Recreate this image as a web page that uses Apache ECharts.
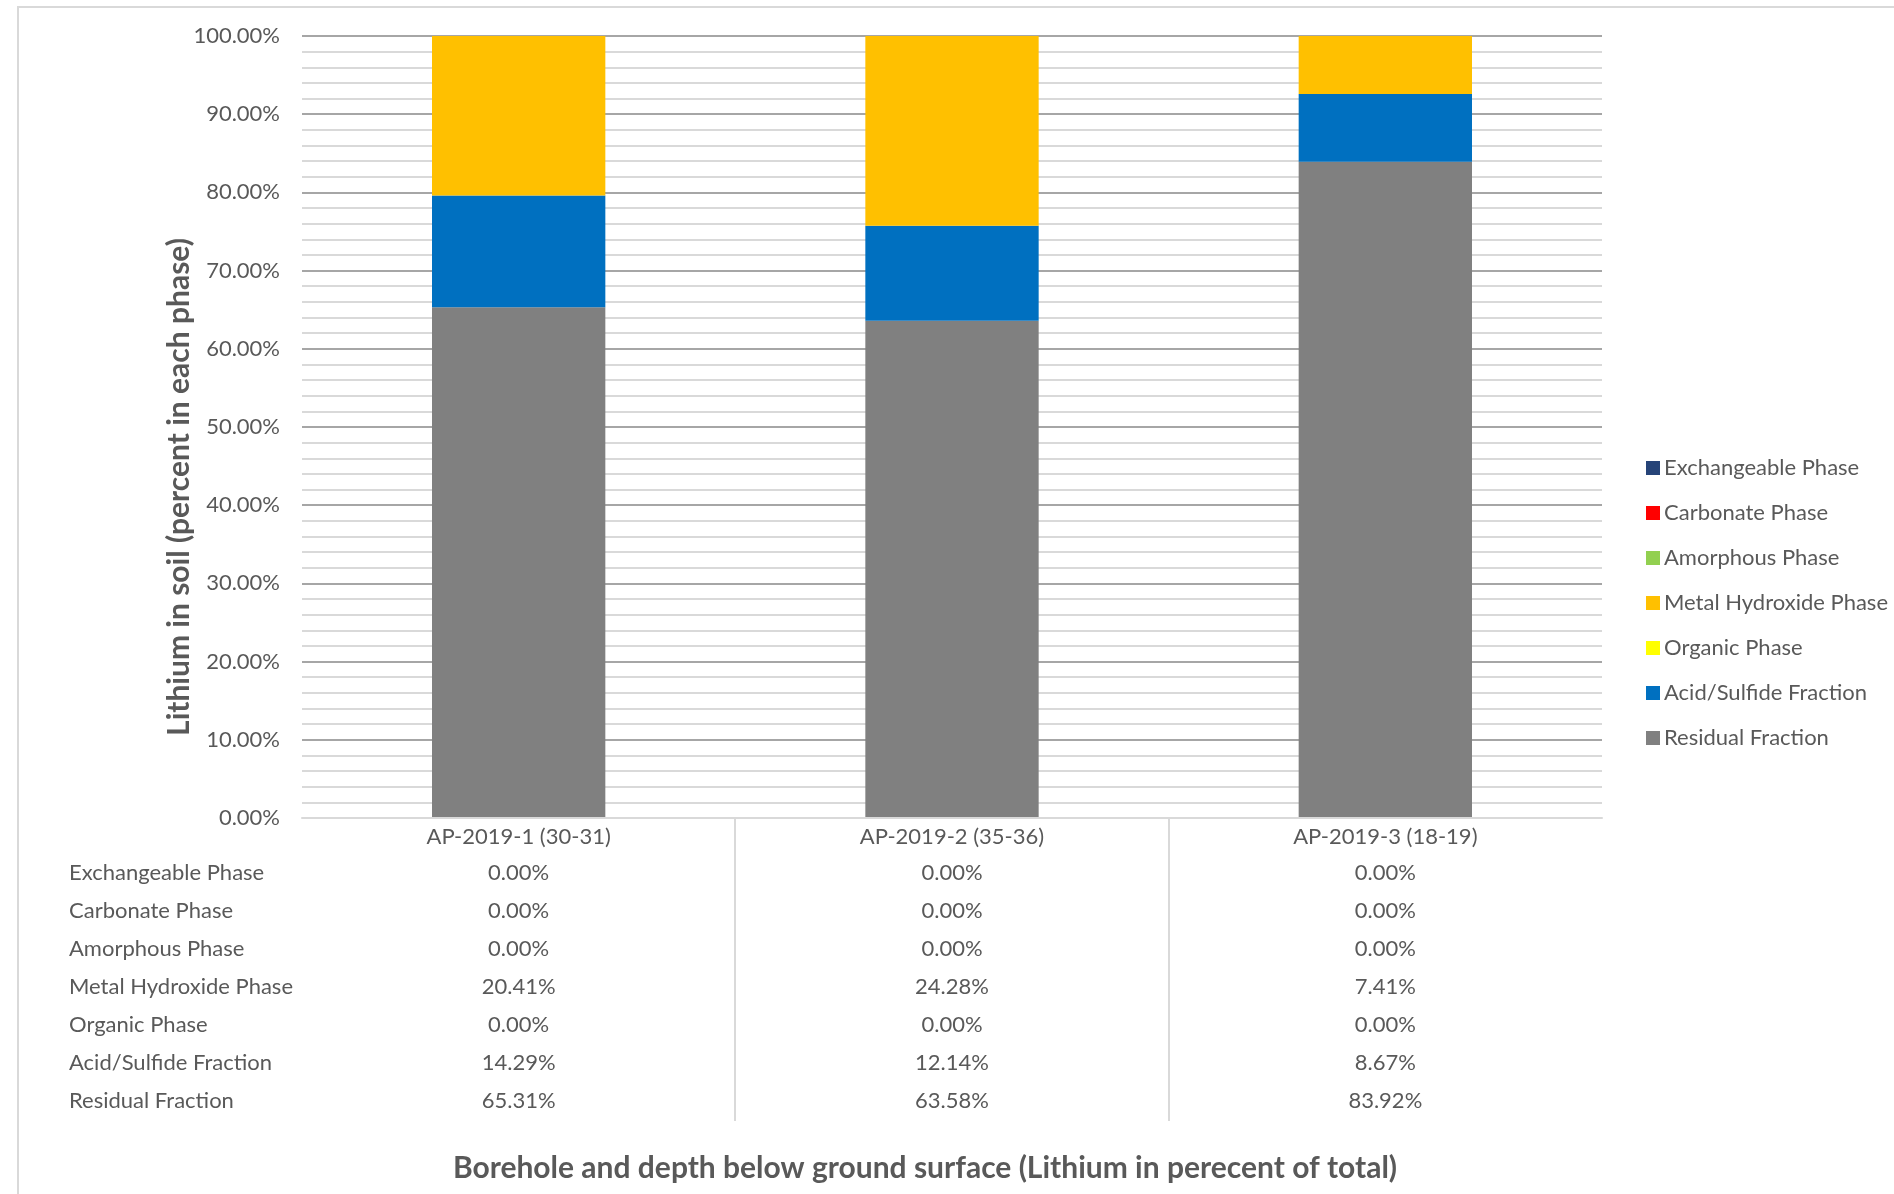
<!DOCTYPE html>
<html>
<head>
<meta charset="utf-8">
<title>Lithium in soil by phase</title>
<script src="https://cdn.jsdelivr.net/npm/echarts@6/dist/echarts.min.js"></script>
<style>
  html, body { margin: 0; padding: 0; background: #ffffff; }
  #chart { width: 1894px; height: 1194px; }
</style>
</head>
<body>
<div id="chart"></div>
<script>
// Boreholes (depth below ground surface, ft)
const categories = ['AP-2019-1 (30-31)', 'AP-2019-2 (35-36)', 'AP-2019-3 (18-19)'];

// Sequential extraction phases, in table / legend order
const phases = [
  'Exchangeable Phase',
  'Carbonate Phase',
  'Amorphous Phase',
  'Metal Hydroxide Phase',
  'Organic Phase',
  'Acid/Sulfide Fraction',
  'Residual Fraction'
];

// Percent of total lithium found in each phase
const exchangeable   = [0.00, 0.00, 0.00];
const carbonate      = [0.00, 0.00, 0.00];
const amorphous      = [0.00, 0.00, 0.00];
const metalHydroxide = [20.41, 24.28, 7.41];
const organic        = [0.00, 0.00, 0.00];
const acidSulfide    = [14.29, 12.14, 8.67];
const residual       = [65.31, 63.58, 83.92];

const phaseValues = [exchangeable, carbonate, amorphous, metalHydroxide, organic, acidSulfide, residual];
const phaseColors = ['#264478', '#FF0000', '#92D050', '#FFC000', '#FFFF00', '#0070C0', '#808080'];

// Value axis range (percent)
const yMin = 0, yMax = 100, yStep = 10;

const FONT = 'Lato, "Open Sans", sans-serif';
const TXT = '#595959';
const fmtPct = v => v.toFixed(2) + '%';

// Layout
const W = 1894, H = 1194;
const gridLeft = 302, gridRight = 292, gridTop = 36, gridBottom = 376;
const axisY = H - gridBottom;
const tableOffset = 30, tableMargin = 6, rowHeight = 38;
const firstRowY = axisY + tableOffset + tableMargin + rowHeight / 2;

const chart = echarts.init(document.getElementById('chart'), null, { renderer: 'canvas' });

// Stack from the bottom up: residual first, exchangeable on top
const stackOrder = phases.map((_, i) => i).reverse();
const series = stackOrder.map(i => ({
  name: phases[i],
  type: 'bar',
  stack: 'total',
  barWidth: '40%',
  data: phaseValues[i],
  itemStyle: { color: phaseColors[i] },
  emphasis: { disabled: true }
}));

// Dark major lines every 10 %, the baseline kept light
const majorColors = [];
for (let v = yMin; v <= yMax; v += yStep) majorColors.push(v === yMin ? '#D9D9D9' : '#A6A6A6');

chart.setOption({
  animation: false,
  textStyle: { fontFamily: FONT },
  grid: { left: gridLeft, right: gridRight, top: gridTop, bottom: gridBottom, containLabel: false },
  legend: {
    orient: 'vertical',
    left: 1641,
    top: 452,
    data: phases,
    icon: 'rect',
    itemWidth: 14,
    itemHeight: 14,
    itemGap: 23,
    selectedMode: false,
    textStyle: { fontFamily: FONT, fontSize: 22, color: TXT, padding: [0, 0, 0, -1] }
  },
  xAxis: [
    {
      type: 'category',
      data: categories,
      axisLine: { show: true, lineStyle: { color: '#D9D9D9', width: 2 } },
      axisTick: { show: false },
      axisLabel: { fontFamily: FONT, fontSize: 22, color: TXT, margin: 8, interval: 0 },
      z: 5
    },
    {
      // data table beneath the plot: one column of values per borehole
      type: 'category',
      data: categories,
      position: 'bottom',
      offset: tableOffset,
      axisLine: { show: false },
      axisTick: { show: false },
      splitLine: { show: false },
      axisLabel: {
        interval: 0,
        margin: tableMargin,
        fontFamily: FONT,
        fontSize: 22,
        color: TXT,
        lineHeight: rowHeight,
        formatter: (value, idx) => phaseValues.map(arr => fmtPct(arr[idx])).join('\n')
      }
    }
  ],
  yAxis: {
    type: 'value',
    min: yMin,
    max: yMax,
    interval: yStep,
    axisLine: { show: false },
    axisTick: { show: false },
    axisLabel: { fontFamily: FONT, fontSize: 22, color: TXT, margin: 22, formatter: v => fmtPct(v) },
    splitLine: { show: true, lineStyle: { color: majorColors, width: 2 } },
    minorTick: { show: false, splitNumber: 5 },
    minorSplitLine: { show: true, lineStyle: { color: '#D9D9D9', width: 2 } }
  },
  series: series
});

// Row headers, table separators, axis titles and chart frame
const graphics = [];

graphics.push({
  type: 'rect',
  shape: { x: 18, y: 7, width: W * 2, height: H * 2 },
  style: { fill: null, stroke: '#D9D9D9', lineWidth: 2 },
  silent: true,
  z: -10
});

phases.forEach((p, i) => {
  graphics.push({
    type: 'text',
    x: 69,
    y: firstRowY + i * rowHeight,
    style: { text: p, fontFamily: FONT, fontSize: 22, fill: TXT, textAlign: 'left', textVerticalAlign: 'middle' },
    silent: true
  });
});

// vertical separators between the boreholes' table columns
for (let i = 0; i < categories.length - 1; i++) {
  const a = chart.convertToPixel({ xAxisIndex: 0 }, categories[i]);
  const b = chart.convertToPixel({ xAxisIndex: 0 }, categories[i + 1]);
  const x = Math.round((a + b) / 2);
  graphics.push({
    type: 'line',
    shape: { x1: x, y1: axisY, x2: x, y2: firstRowY + (phases.length - 1) * rowHeight + 20 },
    style: { stroke: '#D9D9D9', lineWidth: 2 },
    silent: true
  });
}

graphics.push({
  type: 'text',
  x: 179,
  y: 487,
  rotation: Math.PI / 2,
  style: {
    text: 'Lithium in soil (percent in each phase)',
    fontFamily: FONT, fontSize: 30, fontWeight: 'bold', fill: TXT,
    textAlign: 'center', textVerticalAlign: 'middle'
  },
  silent: true
});

graphics.push({
  type: 'text',
  x: 925,
  y: 1168,
  style: {
    text: 'Borehole and depth below ground surface (Lithium in perecent of total)',
    fontFamily: FONT, fontSize: 30, fontWeight: 'bold', fill: TXT,
    textAlign: 'center', textVerticalAlign: 'middle'
  },
  silent: true
});

chart.setOption({ graphic: graphics });
</script>
</body>
</html>
